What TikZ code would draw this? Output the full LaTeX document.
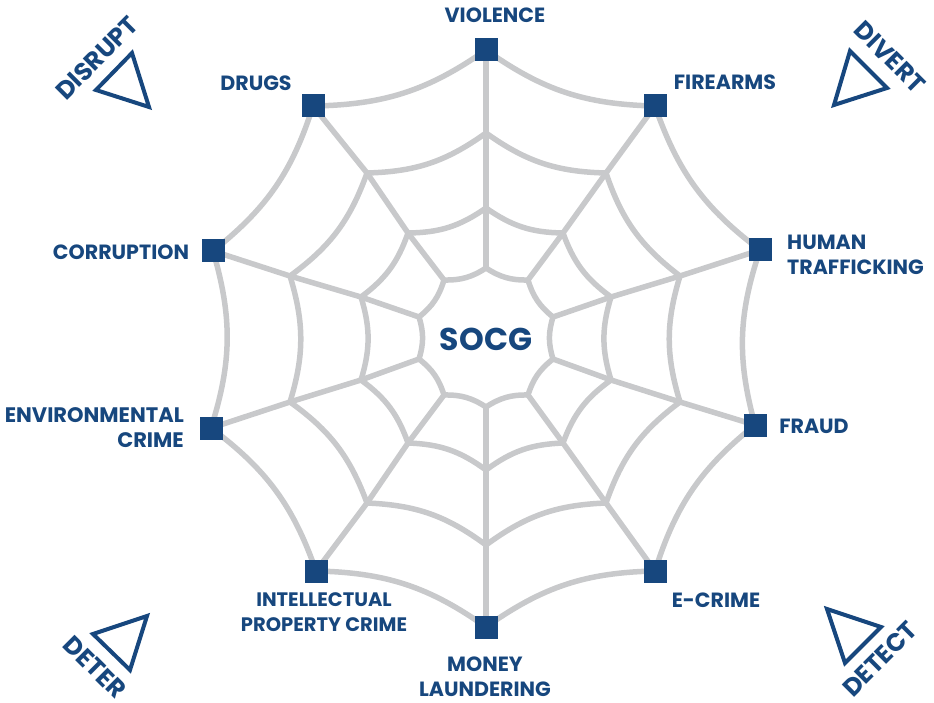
\documentclass[tikz,border=0pt]{standalone}
\usepackage{fontspec}
\setmainfont{Poppins}
\definecolor{navy}{HTML}{17477E}
\definecolor{webgrey}{HTML}{C8C9CB}
\begin{document}
\begin{tikzpicture}[x=1pt,y=-1pt,
  crime node/.style={rectangle,fill=navy,minimum size=23pt,inner sep=0pt},
  web line/.style={draw=webgrey,line width=5.5pt},
  label node/.style={text=navy,font=\fontsize{20.6}{25}\selectfont\bfseries,inner sep=0pt,align=center},
  aim node/.style={label node,font=\fontsize{25}{25}\selectfont\bfseries},
  aim mark/.style={draw=navy,line width=4pt,miter limit=10}]
  \useasboundingbox (0,0) rectangle (934,703);

  % rings, inner to outer, clockwise from the top
  \foreach \name/\x/\y in {a1/486/268,b1/528/280,c1/553/317,d1/553/359,e1/528/395,
    f1/486/407,g1/444/395,h1/419/359,i1/419/317,j1/444/280,
    a2/486/208,b2/563/233,c2/611/297,d2/611/380,e2/563/443,
    f2/486/470,g2/408/443,h2/361/380,i2/361/297,j2/408/233,
    a3/486/133,b3/606/173,c3/680/276,d3/680/402,e3/606/503,
    f3/486/545,g3/367/503,h3/290/402,i3/290/276,j3/367/173,
    a4/486/50,b4/655/106,c4/760/250,d4/755/425,e4/655/571,
    f4/486/627,g4/316/571,h4/211/428,i4/213/251,j4/313/106}
    \coordinate (\name) at (\x,\y);

  \foreach \s in {a,...,j}
    \path[web line] (\s1) edge (\s2) (\s2) edge (\s3) (\s3) edge (\s4);
  \foreach \r in {1,2,3,4}
    \foreach \s/\t in {a/b,b/c,c/d,d/e,e/f,f/g,g/h,h/i,i/j,j/a}
      \path[web line] (\s\r) edge[bend right=17] (\t\r);

  \foreach \s in {a,...,j}
    \node[crime node] (\s) at (\s4) {};

  \node[label node] (violence) at (495,15) {VIOLENCE};
  \node[label node] (firearms) at (725,82) {FIREARMS};
  \node[label node,align=left,anchor=west] (human) at (787,255) {HUMAN\\TRAFFICKING};
  \node[label node] (fraud) at (814,426) {FRAUD};
  \node[label node] (ecrime) at (716,600) {E-CRIME};
  \node[label node] (money) at (485,677) {MONEY\\LAUNDERING};
  \node[label node,font=\fontsize{19.5}{25}\selectfont\bfseries] (property) at (324,612) {INTELLECTUAL\\PROPERTY CRIME};
  \node[label node,align=right,anchor=east,font=\fontsize{21}{25}\selectfont\bfseries] (environmental) at (184,428) {ENVIRONMENTAL\\CRIME};
  \node[label node] (corruption) at (121,252) {CORRUPTION};
  \node[label node] (drugs) at (256,83) {DRUGS};
  \node[label node,font=\fontsize{31.5}{32}\selectfont\bfseries] (socg) at (486,339) {SOCG};

  \node[aim node,rotate=45] (disrupt) at (97,58) {DISRUPT};
  \node[aim node,rotate=-45] (divert) at (890,57) {DIVERT};
  \node[aim node,rotate=-45] (deter) at (95,667) {DETER};
  \node[aim node,rotate=45] (detect) at (880,659) {DETECT};

  \draw[aim mark] (132,53) -- (96,90) -- (149,107) -- cycle;
  \draw[aim mark] (850,51) -- (887,88) -- (834,105) -- cycle;
  \draw[aim mark] (147,616) -- (93,634) -- (130,670) -- cycle;
  \draw[aim mark] (827,609) -- (881,627) -- (845,663) -- cycle;
\end{tikzpicture}
\end{document}
